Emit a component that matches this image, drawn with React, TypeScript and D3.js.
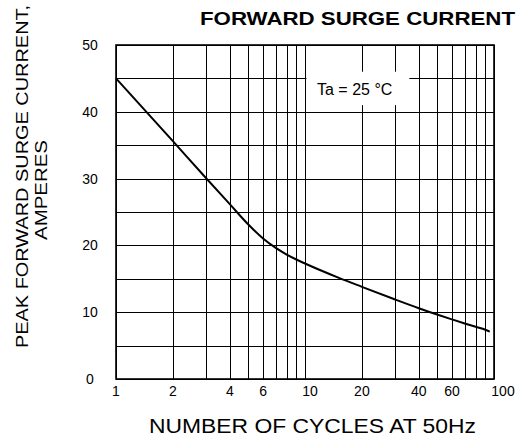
import React from "react";
import * as d3 from "d3";

const curveCycles = [1, 2, 3, 4, 5, 6, 7, 8, 9, 10, 15, 20, 30, 40, 50, 60, 70, 80, 90, 95];
const curveAmps = [45, 35.6, 30.05, 26.17, 23.16, 21.03, 19.62, 18.63, 17.89, 17.29, 15.18, 13.8, 11.9, 10.6, 9.65, 8.92, 8.32, 7.81, 7.37, 7.1];
const xGridValues = [1, 2, 3, 4, 5, 6, 7, 8, 9, 10, 20, 30, 40, 50, 60, 70, 80, 90, 100];
const xTickLabels = [1, 2, 4, 6, 10, 20, 40, 60, 100];
const yGridValues = [0, 5, 10, 15, 20, 25, 30, 35, 40, 45, 50];
const yTickLabels = [0, 10, 20, 30, 40, 50];

const W = 521;
const H = 437;
const left = 116;
const right = 494;
const top = 45;
const bottom = 379;

export default function App() {
  const x = d3.scaleLog().domain([1, 100]).range([left, right]);
  const y = d3.scaleLinear().domain([0, 50]).range([bottom, top]);
  const snap = (v: number) => Math.round(v) + 0.5;

  const pts: [number, number][] = curveCycles.map((c, i) => [x(c), y(curveAmps[i])]);
  const line = d3.line().curve(d3.curveMonotoneX)(pts) || "";

  const font = "Arial, 'Liberation Sans', Helvetica, sans-serif";

  return (
    <svg width={W} height={H} style={{ position: "absolute", left: 0, top: 0, background: "#fff" }}>
      <rect x={0} y={0} width={W} height={H} fill="#fff" />
      {/* grid */}
      {xGridValues.map((v) => (
        <line key={"gx" + v} x1={snap(x(v))} x2={snap(x(v))} y1={top} y2={bottom} stroke="#000" strokeWidth={1} />
      ))}
      {yGridValues.map((v) => (
        <line key={"gy" + v} x1={left} x2={right} y1={snap(y(v))} y2={snap(y(v))} stroke="#000" strokeWidth={1} />
      ))}
      {/* border */}
      <rect x={left} y={top} width={right - left} height={bottom - top} fill="none" stroke="#000" strokeWidth={1.6} />
      {/* annotation box */}
      <rect x={snap(x(10)) + 1} y={y(46)} width={x(35) - x(10)} height={y(41) - y(46)} fill="#fff" />
      <text x={x(10) + 12} y={y(42.5)} fontFamily={font} fontSize={16} fill="#000">
        Ta = 25 °C
      </text>
      {/* curve */}
      <path d={line} fill="none" stroke="#000" strokeWidth={2} />
      {/* y tick labels */}
      {yTickLabels.map((v) => (
        <text key={"yl" + v} x={90} y={y(v)} dy="0.35em" textAnchor="middle" fontFamily={font} fontSize={14} fill="#000">
          {v}
        </text>
      ))}
      {/* x tick labels */}
      {xTickLabels.map((v) => (
        <text key={"xl" + v} x={x(v) + (v === 10 ? 5 : v === 100 ? 9 : 0)} y={396} textAnchor="middle" fontFamily={font} fontSize={14} fill="#000">
          {v}
        </text>
      ))}
      {/* title */}
      <text x={200} y={24.5} fontFamily={font} fontSize={17.5} fontWeight="bold" fill="#000" textLength={315} lengthAdjust="spacingAndGlyphs">
        FORWARD SURGE CURRENT
      </text>
      {/* x axis title */}
      <text x={149} y={433} fontFamily={font} fontSize={20} fill="#000" textLength={327} lengthAdjust="spacingAndGlyphs">
        NUMBER OF CYCLES AT 50Hz
      </text>
      {/* y axis title */}
      <text transform="translate(28,348) rotate(-90)" x={0} y={0} fontFamily={font} fontSize={17} fill="#000" textLength={343} lengthAdjust="spacingAndGlyphs">
        PEAK FORWARD SURGE CURRENT,
      </text>
      <text transform="translate(47,240) rotate(-90)" x={0} y={0} fontFamily={font} fontSize={17} fill="#000" textLength={100} lengthAdjust="spacingAndGlyphs">
        AMPERES
      </text>
    </svg>
  );
}
